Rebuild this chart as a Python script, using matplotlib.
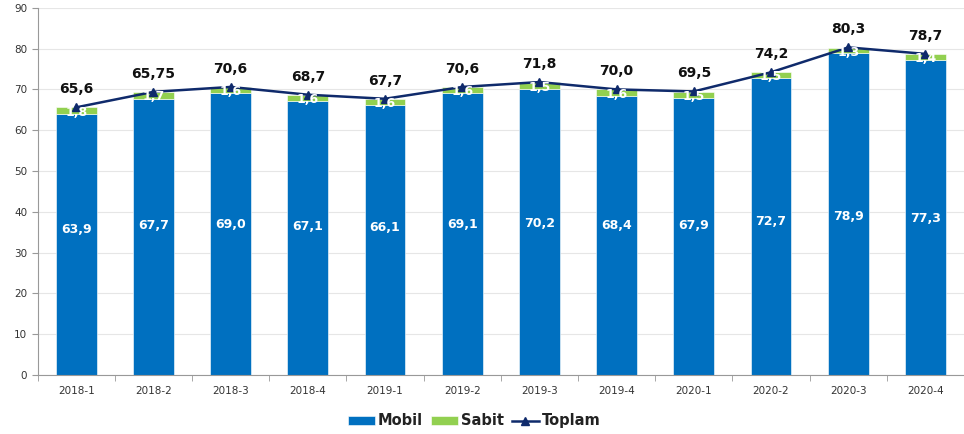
import matplotlib.pyplot as plt
import numpy as np

# quarterly subscriber data
donemler = ['2018-1', '2018-2', '2018-3', '2018-4', '2019-1', '2019-2',
            '2019-3', '2019-4', '2020-1', '2020-2', '2020-3', '2020-4']
mobil = [63.9, 67.7, 69.0, 67.1, 66.1, 69.1, 70.2, 68.4, 67.9, 72.7, 78.9, 77.3]
sabit = [1.8, 1.7, 1.6, 1.6, 1.6, 1.6, 1.5, 1.6, 1.5, 1.5, 1.3, 1.4]
toplam = [65.6, 69.4, 70.6, 68.7, 67.7, 70.6, 71.8, 70.0, 69.5, 74.2, 80.3, 78.7]
toplam_labels = ['65,6', '65,75', '70,6', '68,7', '67,7', '70,6',
                 '71,8', '70,0', '69,5', '74,2', '80,3', '78,7']

BLUE = '#0070C0'
GREEN = '#92D050'
NAVY = '#0F2A6B'


def fmt(v):
    return ('%.1f' % v).replace('.', ',')


fig = plt.figure(figsize=(9.64, 4.34), dpi=100)
ax = fig.add_axes([0.039, 0.136, 0.961, 0.846])

x = np.arange(len(donemler))
w = 0.53
b1 = ax.bar(x, mobil, w, color=BLUE, edgecolor='white', linewidth=0.4, label='Mobil', zorder=2)
b2 = ax.bar(x, sabit, w, bottom=mobil, color=GREEN, edgecolor='white', linewidth=0.4,
            label='Sabit', zorder=2)
ln, = ax.plot(x, toplam, color=NAVY, linewidth=1.8, marker='^', markersize=5.5,
              label='Toplam', zorder=4)

for i in range(len(x)):
    ax.text(x[i], 0.2 * mobil[i] + 23, fmt(mobil[i]), color='white', fontsize=9,
            fontweight='bold', ha='center', va='center', zorder=5)
    ax.text(x[i], mobil[i] + sabit[i] / 2 - 0.4, fmt(sabit[i]), color='white',
            fontsize=9, fontweight='bold', ha='center', va='center', zorder=5)
    ax.annotate(toplam_labels[i], (x[i], toplam[i]), xytext=(0, 8),
                textcoords='offset points', ha='center', va='bottom',
                fontsize=10, fontweight='bold', color='#111111', zorder=6)

ax.set_xlim(-0.5, len(x) - 0.5)
ax.set_ylim(0, 90)
ax.set_yticks(range(0, 91, 10))
ax.set_xticks(x)
ax.set_xticklabels(donemler)
ax.set_xticks(np.arange(-0.5, len(x), 1), minor=True)
ax.tick_params(axis='x', which='major', length=0, labelsize=7.5, colors='#333333', pad=8)
ax.tick_params(axis='x', which='minor', length=4, color='#999999')
ax.tick_params(axis='y', length=4, color='#999999', labelsize=7.5, labelcolor='#333333')
ax.grid(axis='y', color='#e6e6e6', linewidth=0.8, zorder=0)
ax.set_axisbelow(True)
for s in ['top', 'right']:
    ax.spines[s].set_visible(False)
for s in ['left', 'bottom']:
    ax.spines[s].set_color('#999999')

leg = fig.legend([b1, b2, ln], ['Mobil', 'Sabit', 'Toplam'], loc='center',
                 bbox_to_anchor=(0.492, 0.03), ncol=3, frameon=False,
                 fontsize=10.5, handlelength=1.8, handleheight=0.6, columnspacing=0.6,
                 handletextpad=0.2)
for t in leg.get_texts():
    t.set_fontweight('bold')
    t.set_color('#222222')

fig.savefig('out.png', dpi=100)
